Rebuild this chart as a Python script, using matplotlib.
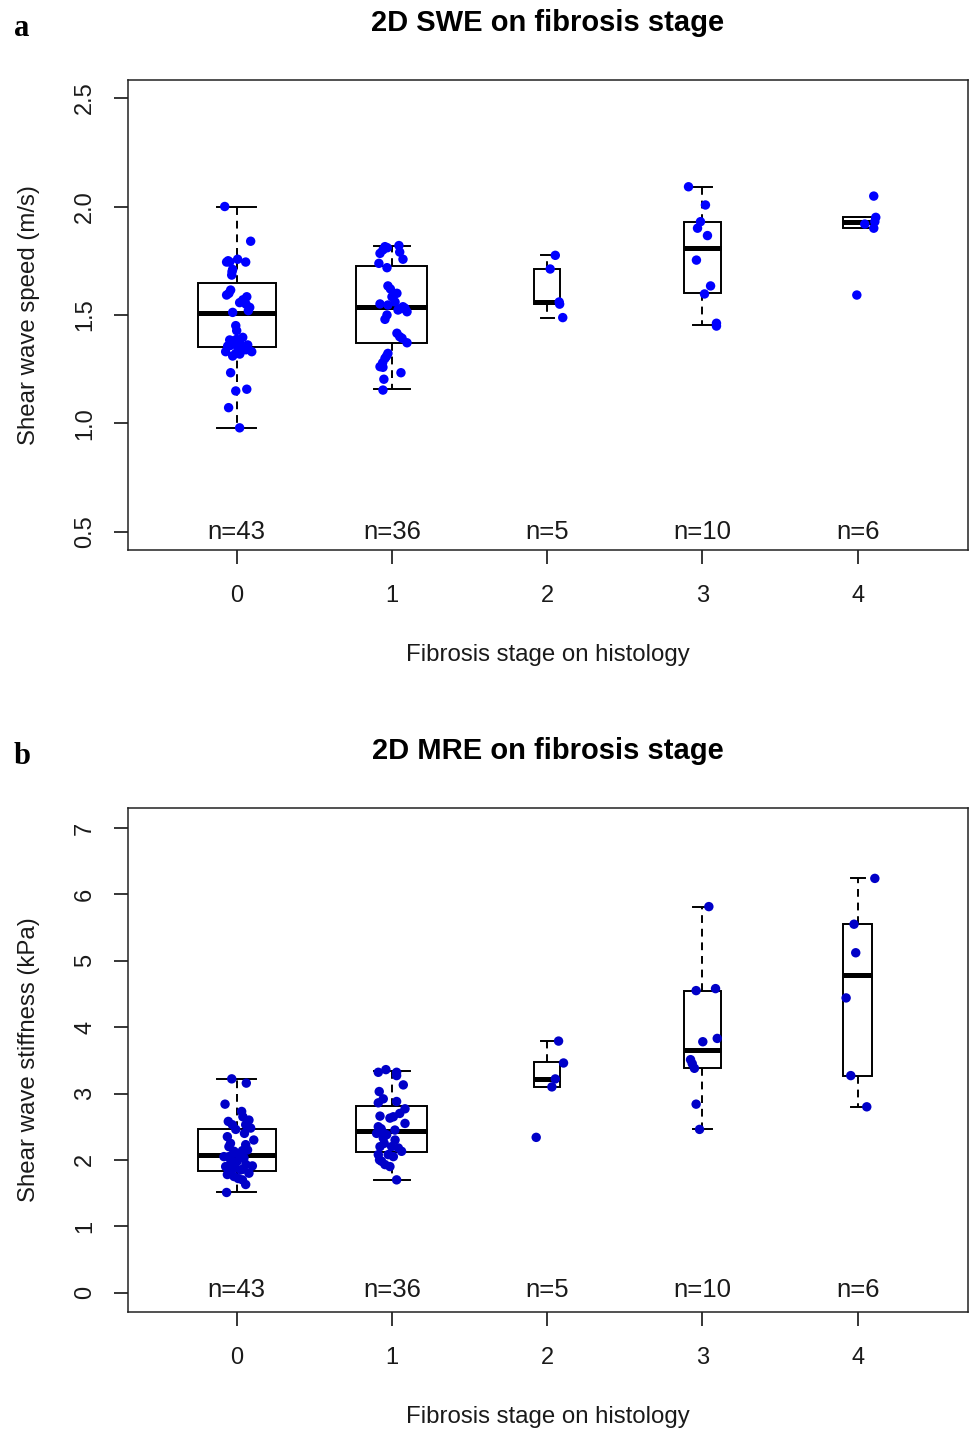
import numpy as np
import matplotlib
matplotlib.use("Agg")
import matplotlib.pyplot as plt

plt.rcParams['font.family'] = ['Liberation Sans', 'DejaVu Sans']

stages = [0, 1, 2, 3, 4]
n_labels = ["n=43", "n=36", "n=5", "n=10", "n=6"]
counts = [43, 36, 5, 10, 6]

# ---- panel a: 2D SWE (m/s) ----
swe_vals = [
    [2.00, 1.84, 1.744, 1.744, 1.757, 1.744, 1.71, 1.684, 1.615, 1.592, 1.584,
     1.557, 1.535, 1.512, 1.451, 1.428, 1.385, 1.388, 1.397, 1.357, 1.37, 1.362,
     1.331, 1.323, 1.339, 1.331, 1.311, 1.234, 1.15, 1.158, 1.073, 0.98,
     1.75, 1.70, 1.60, 1.57, 1.55, 1.52, 1.38, 1.35, 1.34, 1.32, 1.36],
    [1.815, 1.82, 1.80, 1.784, 1.757, 1.738, 1.718, 1.634, 1.60, 1.584, 1.551,
     1.546, 1.538, 1.523, 1.515, 1.531, 1.50, 1.48, 1.416, 1.393, 1.372, 1.323,
     1.30, 1.262, 1.259, 1.234, 1.204, 1.154,
     1.81, 1.79, 1.62, 1.56, 1.53, 1.40, 1.28, 1.31],
    [1.775, 1.712, 1.56, 1.55, 1.488],
    [2.091, 2.007, 1.93, 1.90, 1.866, 1.753, 1.634, 1.597, 1.462, 1.449],
    [2.048, 1.95, 1.919, 1.90, 1.592, 1.93],
]
swe_jit = [
    [-0.077, 0.09, -0.065, -0.045, 0.006, 0.058, -0.026, -0.032, -0.039, -0.065,
     0.065, 0.019, 0.084, -0.026, -0.006, 0.0, -0.045, 0.0, 0.039, -0.058, 0.019,
     0.071, -0.071, -0.006, 0.039, 0.097, -0.026, -0.039, -0.006, 0.065, -0.052,
     0.019, -0.055, -0.03, -0.05, 0.04, 0.06, 0.075, -0.03, 0.01, 0.06, 0.02, -0.04],
    [-0.045, 0.045, -0.058, -0.077, 0.071, -0.084, -0.032, -0.026, 0.032, 0.0,
     -0.077, -0.026, 0.071, 0.039, 0.097, 0.084, -0.032, -0.045, 0.032, 0.065,
     0.097, -0.026, -0.045, -0.077, -0.058, 0.058, -0.052, -0.058,
     -0.03, 0.05, -0.01, 0.02, 0.06, 0.05, -0.06, -0.035],
    [0.052, 0.019, 0.077, 0.08, 0.10],
    [-0.09, 0.019, -0.013, -0.032, 0.032, -0.039, 0.052, 0.013, 0.09, 0.09],
    [0.103, 0.116, 0.045, 0.103, -0.006, 0.11],
]
swe_med = [1.508, 1.537, 1.56, 1.807, 1.93]
swe_q1 = [1.354, 1.373, 1.552, 1.60, 1.902]
swe_q3 = [1.649, 1.726, 1.712, 1.93, 1.95]
swe_lo = [0.98, 1.158, 1.488, 1.452, 1.902]
swe_hi = [2.00, 1.82, 1.775, 2.091, 1.95]

# ---- panel b: 2D MRE (kPa) ----
mre_vals = [
    [3.221, 3.157, 2.84, 2.73, 2.58, 2.53, 2.60, 2.53, 2.48, 2.46, 2.35, 2.30,
     2.23, 2.20, 2.13, 2.14, 2.05, 2.00, 1.98, 2.03, 1.90, 1.91, 1.83, 1.85,
     1.80, 1.78, 1.75, 1.70, 1.63, 1.51,
     2.40, 2.25, 2.10, 2.08, 2.05, 1.95, 1.93, 1.88, 1.86, 1.82, 1.72, 2.15, 2.65],
    [3.32, 3.36, 3.32, 3.27, 3.13, 3.03, 2.92, 2.88, 2.77, 2.86, 2.66, 2.65,
     2.55, 2.63, 2.50, 2.40, 2.38, 2.33, 2.45, 2.20, 2.20, 2.18, 2.08, 2.08,
     2.05, 2.13, 1.98, 1.93, 1.90, 1.70,
     2.42, 2.47, 2.30, 2.25, 2.00, 2.70],
    [3.79, 3.46, 3.22, 3.10, 2.34],
    [5.815, 4.55, 4.58, 3.78, 3.83, 3.51, 3.38, 3.45, 2.84, 2.46],
    [6.24, 5.55, 5.12, 4.44, 3.27, 2.80],
]
mre_jit = [
    [-0.032, 0.062, -0.075, 0.032, -0.054, -0.028, 0.079, 0.058, 0.09, -0.006,
     -0.06, 0.11, 0.058, -0.05, -0.017, 0.037, -0.082, -0.039, 0.004, 0.047,
     -0.071, 0.101, -0.039, 0.026, 0.079, -0.06, -0.017, 0.037, 0.058, -0.065,
     0.05, -0.04, -0.02, 0.02, -0.05, -0.03, 0.06, -0.01, 0.04, -0.05, 0.01, 0.07, 0.04],
    [-0.088, -0.039, 0.03, 0.03, 0.073, -0.082, -0.056, 0.03, 0.084, -0.088,
     -0.077, 0.009, 0.084, -0.013, -0.088, -0.099, -0.034, -0.056, 0.019, -0.077,
     -0.002, 0.041, -0.088, -0.024, 0.009, 0.062, -0.067, -0.045, -0.013, 0.03,
     -0.06, -0.07, 0.02, -0.05, -0.08, 0.05],
    [0.073, 0.105, 0.052, 0.03, -0.071],
    [0.041, -0.041, 0.084, 0.002, 0.095, -0.077, -0.052, -0.066, -0.041, -0.019],
    [0.11, -0.024, -0.013, -0.075, -0.045, 0.058],
]
mre_med = [2.077, 2.443, 3.22, 3.65, 4.79]
mre_q1 = [1.84, 2.127, 3.10, 3.39, 3.27]
mre_q3 = [2.469, 2.815, 3.47, 4.55, 5.55]
mre_lo = [1.51, 1.70, 3.10, 2.46, 2.80]
mre_hi = [3.22, 3.34, 3.79, 5.815, 6.24]

W, H = 969, 1433
fig = plt.figure(figsize=(W / 100, H / 100), dpi=100)

TXT = '#1a1a1a'


def fy(px):
    return 1 - px / H


def fx(px):
    return px / W


def panel(rect, vals, jit, med, q1, q3, lo, hi, color, ylim, yticks, ylab,
          title, letter, n_y, top_px, bot_px):
    ax = fig.add_axes(rect)
    widths = [0.5 * np.sqrt(c / 43) for c in counts]
    stats = []
    for i in range(5):
        stats.append(dict(med=med[i], q1=q1[i], q3=q3[i], whislo=lo[i], whishi=hi[i]))
    ax.bxp(stats, positions=stages, widths=widths, capwidths=[w / 2 for w in widths],
           showfliers=False, patch_artist=True,
           boxprops=dict(facecolor='white', edgecolor='black', linewidth=1.4),
           medianprops=dict(color='black', linewidth=3.6),
           whiskerprops=dict(color='black', linewidth=1.4, linestyle=(0, (4, 3))),
           capprops=dict(color='black', linewidth=1.4))
    for i in range(5):
        xs = np.array(jit[i]) + stages[i]
        ax.scatter(xs, vals[i], s=46, color=color, edgecolors='none', zorder=4)
        ax.text(stages[i], n_y, n_labels[i], ha='center', va='center',
                fontsize=18.5, color=TXT)
    ax.set_xlim(-0.70, 4.71)
    ax.set_ylim(*ylim)
    ax.set_xticks(stages)
    ax.set_xticklabels([str(s) for s in stages])
    ax.set_yticks(yticks)
    ax.set_yticklabels([str(t) for t in yticks])
    for sp in ax.spines.values():
        sp.set_linewidth(1.1)
        sp.set_color('#222222')
    ax.tick_params(axis='x', length=10, width=1.1, pad=15, labelsize=17,
                   labelcolor=TXT)
    ax.tick_params(axis='y', length=10, width=1.1, pad=13, labelsize=17,
                   labelcolor=TXT, labelrotation=90)
    for lab in ax.get_yticklabels():
        lab.set_va('center')
    mid = (top_px + bot_px) / 2
    fig.text(fx(29), fy(mid), ylab, rotation=90, ha='center', va='center',
             fontsize=17.3, color=TXT)
    fig.text(fx(548), fy(bot_px + 105), "Fibrosis stage on histology",
             ha='center', va='center', fontsize=17.3, color=TXT)
    fig.text(fx(548), fy(top_px - 57), title, ha='center', va='center',
             fontsize=21, fontweight='bold', color='black')
    fig.text(fx(22), fy(top_px - 51), letter, ha='center', va='center',
             fontsize=22, fontweight='bold', family='Liberation Serif', color='black')
    return ax


# panel a
a_top, a_bot = 80, 550
panel([fx(128), fy(a_bot), fx(968) - fx(128), fy(a_top) - fy(a_bot)],
      swe_vals, swe_jit, swe_med, swe_q1, swe_q3, swe_lo, swe_hi,
      '#0000ff', (0.417, 2.583), [0.5, 1.0, 1.5, 2.0, 2.5],
      "Shear wave speed (m/s)", "2D SWE on fibrosis stage", "a", 0.5,
      a_top, a_bot)

# panel b
b_top, b_bot = 808, 1312
panel([fx(128), fy(b_bot), fx(968) - fx(128), fy(b_top) - fy(b_bot)],
      mre_vals, mre_jit, mre_med, mre_q1, mre_q3, mre_lo, mre_hi,
      '#0000c8', (-0.29, 7.30), [0, 1, 2, 3, 4, 5, 6, 7],
      "Shear wave stiffness (kPa)", "2D MRE on fibrosis stage", "b", 0.04,
      b_top, b_bot)

fig.savefig("out.png", dpi=100)
